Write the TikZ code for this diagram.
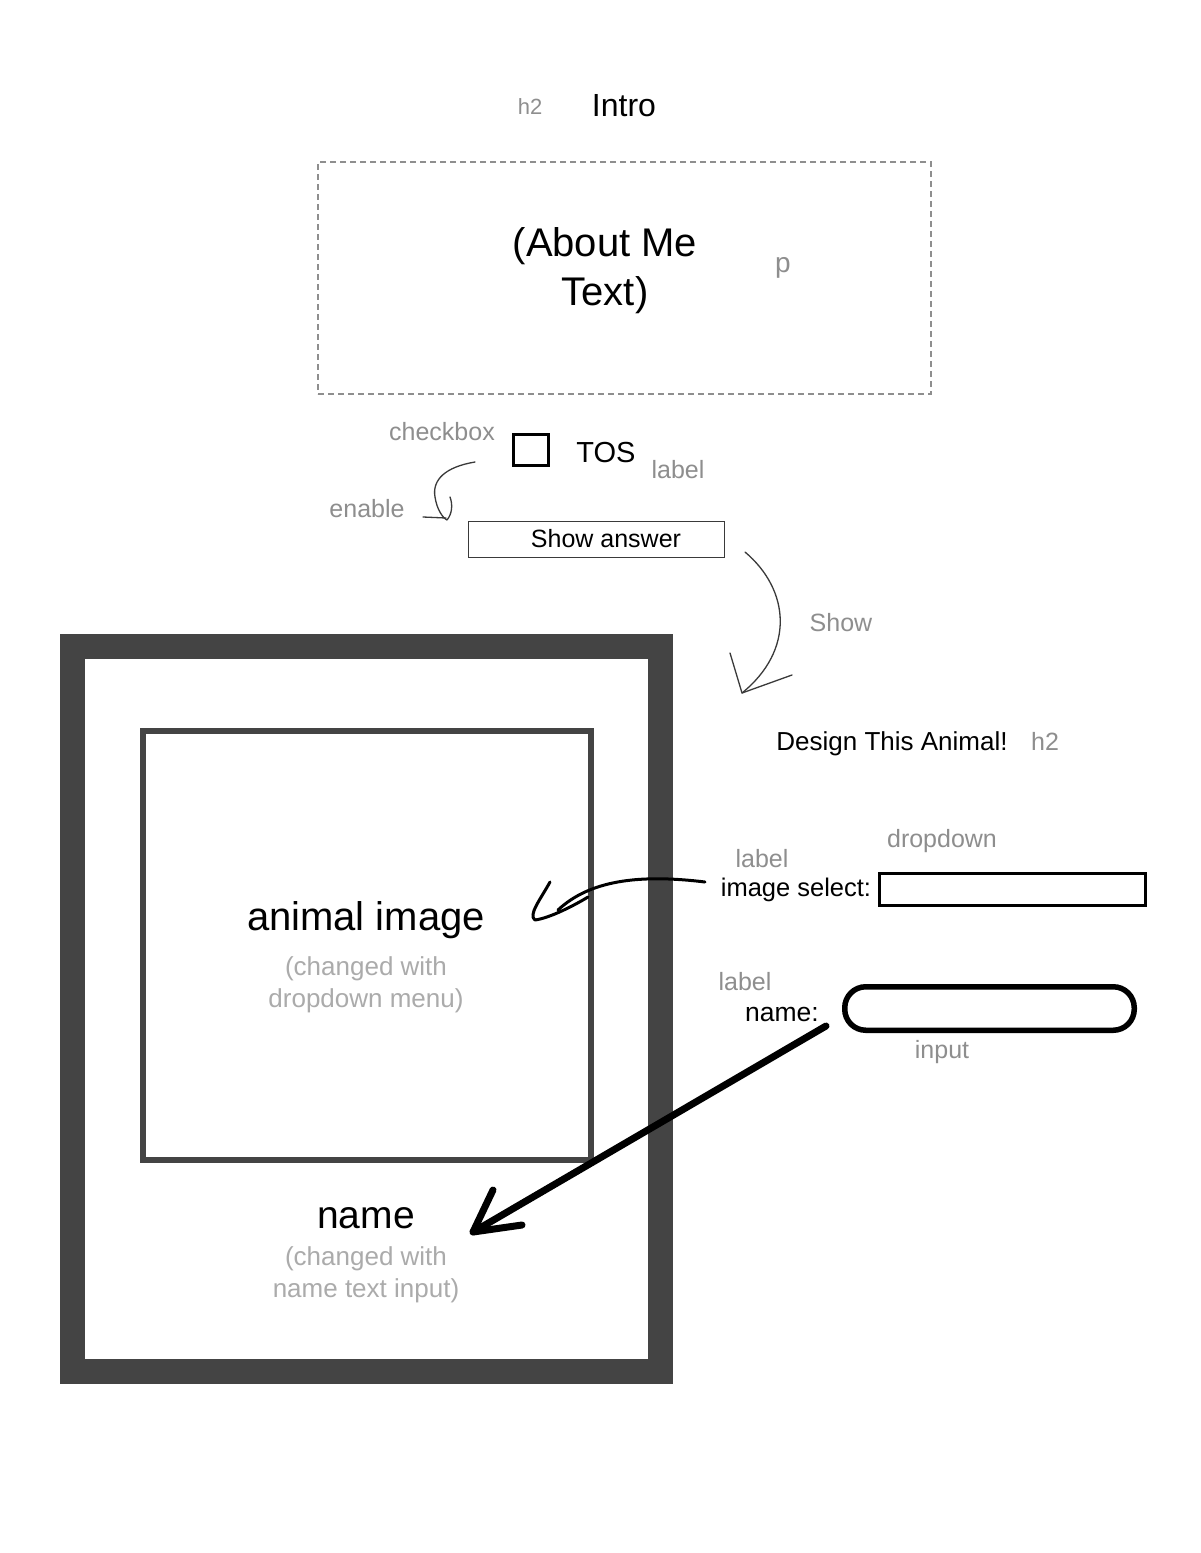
\documentclass[tikz,border=0pt]{standalone}
\usepackage{fontspec}
\setmainfont{Liberation Sans}
\definecolor{tagc}{HTML}{8E8E8E}
\definecolor{hintc}{HTML}{ABABAB}
\definecolor{framec}{HTML}{444444}
\definecolor{inkc}{HTML}{3A3A3A}
\begin{document}
\begin{tikzpicture}[x=1pt,y=-1pt,
  fs/.style={font=\fontsize{#1}{#1}\selectfont},
  tag/.style={text=tagc, anchor=base, inner sep=0, fs=25},
  txt/.style={text=black, anchor=base, inner sep=0},
  hint/.style={text=hintc, anchor=base, inner sep=0, fs=26},
  boxn/.style={draw, inner sep=0},
  pen/.style={draw=inkc, line width=1.3pt, line cap=round, line join=round},
  marker/.style={draw=black, line width=3pt, line cap=round, line join=round},
  thickarrow/.style={draw=black, line width=7pt, line cap=round, line join=round}]

\fill[white] (0,0) rectangle (1200,1553);
\useasboundingbox (0,0) rectangle (1200,1553);

% ---- intro section
\node[tag, fs=22] (introtag) at (530,114) {h2};
\node[txt, fs=32] (intro) at (624,116) {Intro};
\node[boxn, draw=tagc, line width=1.5pt, dash pattern=on 6pt off 4pt,
      minimum width=613pt, minimum height=232pt] (about) at (624.5,278) {};
\node[txt, fs=40] (abouta) at (605,256) {(About Me};
\node[txt, fs=40] (aboutb) at (605,305) {Text)};
\node[tag, fs=28] (ptag) at (783,272) {p};

% ---- terms of service checkbox and button
\node[tag] (cbtag) at (442,440) {checkbox};
\node[boxn, line width=3pt, minimum width=35pt, minimum height=31pt] (cb) at (531,450) {};
\node[txt, fs=29] (tos) at (606,462) {TOS};
\node[tag] (tostag) at (678,478) {label};
\node[tag] (enabletag) at (367,517) {enable};
\node[boxn, draw=inkc, line width=1.5pt, minimum width=256pt, minimum height=36pt] (btn) at (596.5,539.5) {};
\node[txt, fs=25] (btntext) at (606,547) {Show answer};

% enable stroke from checkbox to button
\coordinate (e0) at (475,462);
\coordinate (e1) at (447,520);
\coordinate (e2) at (450,497);
\coordinate (e3) at (423,517);
\draw[pen] (e0) .. controls (445,467) and (432,480) .. (435,497)
  .. controls (437,510) and (443,518) .. (e1)
  .. controls (452,514) and (453,505) .. (e2);
\draw[pen] (e3) -- (446,518);

% show stroke from button to the design heading
\coordinate (s0) at (745,552);
\coordinate (s1) at (742,693);
\draw[pen] (s0) .. controls (790,590) and (795,650) .. (s1);
\draw[pen] (730,653) -- (s1) -- (792,675);
\node[tag] (showtag) at (841,631) {Show};

% ---- card with image and name
\node[boxn, draw=framec, line width=25pt, minimum width=588pt, minimum height=725pt] (card) at (366.5,1009) {};
\node[boxn, draw=framec, line width=6pt, minimum width=448pt, minimum height=429pt] (imgbox) at (367,945.5) {};
\node[txt, fs=40] (animal) at (366,930) {animal image};
\node[hint] (hinta) at (366,975) {(changed with};
\node[hint] (hintb) at (366,1007) {dropdown menu)};
\node[txt, fs=39] (cardname) at (366,1228) {name};
\node[hint] (hintc) at (366,1265) {(changed with};
\node[hint] (hintd) at (366,1297) {name text input)};

% ---- design form
\node[txt, fs=26] (design) at (892,750) {Design This Animal!};
\node[tag] (designtag) at (1045,750) {h2};
\node[tag] (ddtag) at (942,847) {dropdown};
\node[tag] (lbla) at (762,867) {label};
\node[txt, fs=25.5] (imgsel) at (796,896) {image select:};
\node[boxn, line width=3pt, minimum width=266pt, minimum height=32pt] (dd) at (1012.5,889.5) {};
\node[tag] (lblb) at (745,990) {label};
\node[txt, fs=26.5] (namelbl) at (782,1021) {name:};
\node[boxn, line width=5.5pt, rounded corners=21pt, minimum width=289.5pt, minimum height=43.5pt] (inp) at (989.5,1008.5) {};
\node[tag] (inptag) at (942,1058) {input};

% dropdown drives the image
\coordinate (d0) at (705,882);
\coordinate (d1) at (558,910);
\draw[marker] (d0) .. controls (640,874) and (590,880) .. (d1);
\draw[marker] (550,882) .. controls (540,900) and (528,915) .. (535,920)
  .. controls (550,918) and (575,905) .. (588,897);

% text input drives the name
\coordinate (n0) at (826,1026);
\coordinate (n1) at (473,1232);
\draw[thickarrow] (n0) -- (n1);
\draw[thickarrow] (493,1190) -- (n1) -- (522,1225);

\end{tikzpicture}
\end{document}
